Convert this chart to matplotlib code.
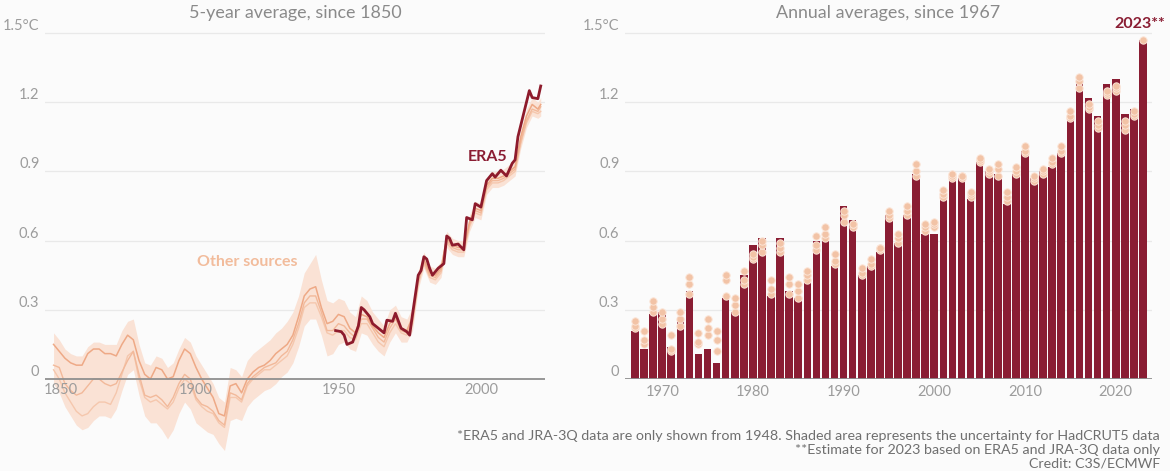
import numpy as np
import matplotlib
matplotlib.use("Agg")
import matplotlib.pyplot as plt

# ---------------- 5-year running averages (°C above 1850-1900) ----------------
other_years = list(range(1850, 2021, 2)) + [2021]

other_upper = [
    0.15, 0.12, 0.09, 0.07, 0.06,   0.06, 0.11, 0.13, 0.13, 0.11,
    0.11, 0.10, 0.15, 0.19, 0.17,   0.08, 0.02, 0.00, 0.05, 0.04,
    0.00, 0.01, 0.08, 0.13, 0.11,   0.05, 0.00, -0.04, -0.08, -0.15,
    -0.16, -0.03, -0.02, -0.06, 0.00,   0.03, 0.05, 0.06, 0.08, 0.11,
    0.13, 0.15, 0.19, 0.27, 0.36,   0.39, 0.40, 0.31, 0.24, 0.25,
    0.28, 0.27, 0.22, 0.20, 0.28,   0.27, 0.23, 0.20, 0.18, 0.24,
    0.27, 0.22, 0.21, 0.27, 0.44,   0.52, 0.46, 0.45, 0.48, 0.61,
    0.58, 0.57, 0.57, 0.68, 0.74,   0.73, 0.84, 0.87, 0.87, 0.88,
    0.90, 0.92, 1.05, 1.14, 1.19,   1.17, 1.19,
]
other_mid = [
    0.06, 0.05, -0.02, -0.05, -0.07,   -0.06, -0.03, 0.00, 0.00, -0.02,
    -0.03, -0.02, 0.03, 0.08, 0.12,   0.02, -0.07, -0.08, -0.07, -0.09,
    -0.12, -0.08, -0.02, 0.02, 0.00,   -0.08, -0.11, -0.12, -0.14, -0.18,
    -0.20, -0.06, -0.07, -0.09, -0.02,   0.01, 0.03, 0.05, 0.06, 0.07,
    0.10, 0.12, 0.17, 0.24, 0.33,   0.36, 0.36, 0.29, 0.21, 0.21,
    0.24, 0.23, 0.20, 0.18, 0.26,   0.26, 0.22, 0.18, 0.16, 0.22,
    0.26, 0.21, 0.20, 0.25, 0.42,   0.51, 0.45, 0.44, 0.47, 0.60,
    0.57, 0.56, 0.56, 0.67, 0.73,   0.72, 0.83, 0.86, 0.86, 0.87,
    0.89, 0.91, 1.03, 1.12, 1.17,   1.16, 1.18,
]
other_low = [
    0.04, 0.00, -0.06, -0.10, -0.14,   -0.16, -0.15, -0.12, -0.10, -0.10,
    -0.11, -0.06, 0.02, 0.10, 0.12,   0.00, -0.08, -0.10, -0.09, -0.11,
    -0.13, -0.10, -0.04, 0.00, -0.02,   -0.09, -0.12, -0.14, -0.15, -0.19,
    -0.21, -0.08, -0.08, -0.10, -0.03,   0.00, 0.02, 0.04, 0.04, 0.06,
    0.08, 0.10, 0.15, 0.22, 0.31,   0.33, 0.33, 0.27, 0.20, 0.19,
    0.21, 0.21, 0.18, 0.17, 0.24,   0.24, 0.20, 0.16, 0.14, 0.20,
    0.24, 0.20, 0.19, 0.24, 0.41,   0.50, 0.44, 0.43, 0.46, 0.59,
    0.56, 0.55, 0.55, 0.66, 0.72,   0.71, 0.82, 0.85, 0.85, 0.86,
    0.88, 0.90, 1.02, 1.11, 1.16,   1.15, 1.16,
]
band_high = [
    0.20, 0.17, 0.13, 0.11, 0.10,   0.10, 0.14, 0.16, 0.16, 0.15,
    0.15, 0.15, 0.21, 0.25, 0.26,   0.15, 0.07, 0.06, 0.10, 0.09,
    0.05, 0.07, 0.13, 0.18, 0.16,   0.10, 0.06, 0.02, -0.02, -0.08,
    -0.10, 0.05, 0.04, 0.01, 0.08,   0.11, 0.13, 0.15, 0.17, 0.20,
    0.22, 0.25, 0.29, 0.36, 0.46,   0.50, 0.54, 0.43, 0.34, 0.33,
    0.35, 0.34, 0.29, 0.27, 0.36,   0.34, 0.29, 0.26, 0.23, 0.30,
    0.32, 0.27, 0.26, 0.31, 0.47,   0.55, 0.49, 0.48, 0.51, 0.64,
    0.61, 0.60, 0.60, 0.71, 0.77,   0.76, 0.87, 0.90, 0.90, 0.91,
    0.93, 0.95, 1.08, 1.17, 1.22,   1.20, 1.22,
]
band_low = [
    -0.02, -0.06, -0.12, -0.16, -0.20,   -0.22, -0.21, -0.18, -0.16, -0.16,
    -0.17, -0.13, -0.05, 0.02, 0.04,   -0.07, -0.16, -0.19, -0.19, -0.22,
    -0.26, -0.22, -0.15, -0.10, -0.13,   -0.19, -0.21, -0.23, -0.24, -0.28,
    -0.31, -0.18, -0.17, -0.18, -0.12,   -0.09, -0.07, -0.05, -0.04, -0.02,
    0.01, 0.03, 0.07, 0.14, 0.23,   0.26, 0.26, 0.19, 0.10, 0.11,
    0.15, 0.16, 0.13, 0.12, 0.20,   0.19, 0.15, 0.12, 0.10, 0.16,
    0.20, 0.16, 0.16, 0.21, 0.39,   0.48, 0.42, 0.41, 0.44, 0.57,
    0.54, 0.53, 0.53, 0.64, 0.70,   0.69, 0.80, 0.83, 0.83, 0.84,
    0.86, 0.88, 1.00, 1.09, 1.14,   1.13, 1.14,
]

era5_5yr_years = [
    1949, 1951, 1952, 1953, 1955, 1957, 1958, 1959, 1961, 1962,
    1964, 1965, 1966, 1967, 1969, 1970, 1972, 1974, 1975, 1976,
    1978, 1979, 1980, 1981, 1982, 1983, 1985, 1987, 1988, 1989,
    1990, 1992, 1994, 1995, 1997, 1998, 2000, 2002, 2004, 2005,
    2007, 2009, 2011, 2012, 2013, 2014, 2015, 2016, 2017, 2018,
    2020, 2021,
]
era5_5yr = [
    0.21, 0.205, 0.19, 0.15, 0.16, 0.23, 0.31, 0.30, 0.27, 0.24,
    0.22, 0.21, 0.20, 0.255, 0.25, 0.285, 0.22, 0.205, 0.19, 0.28,
    0.45, 0.47, 0.53, 0.52, 0.48, 0.45, 0.48, 0.50, 0.62, 0.61,
    0.58, 0.585, 0.56, 0.70, 0.69, 0.76, 0.745, 0.86, 0.89, 0.875,
    0.905, 0.88, 0.935, 0.95, 1.05, 1.10, 1.15, 1.20, 1.25, 1.22,
    1.215, 1.27,
]

# ---------------- annual averages since 1967 ----------------
bar_years = list(range(1967, 2024))
era5_annual = [
    0.21, 0.13, 0.28, 0.29, 0.14, 0.27, 0.38, 0.11, 0.13, 0.07,
    0.35, 0.29, 0.45, 0.58, 0.61, 0.36, 0.61, 0.38, 0.35, 0.42,
    0.60, 0.60, 0.49, 0.75, 0.69, 0.45, 0.49, 0.55, 0.71, 0.59,
    0.71, 0.89, 0.63, 0.63, 0.79, 0.87, 0.87, 0.78, 0.94, 0.90,
    0.89, 0.76, 0.89, 0.99, 0.87, 0.90, 0.92, 0.98, 1.14, 1.31,
    1.22, 1.14, 1.28, 1.30, 1.15, 1.17, 1.47,
]
nan = float("nan")
source_a = [
    0.25, 0.21, 0.34, 0.29, 0.19, 0.29, 0.44, 0.20, 0.26, 0.21,
    0.45, 0.35, 0.47, 0.54, 0.60, 0.43, 0.59, 0.44, 0.41, 0.47,
    0.62, 0.66, 0.54, 0.73, 0.67, 0.48, 0.52, 0.57, 0.73, 0.63,
    0.75, 0.93, 0.67, 0.68, 0.82, 0.89, 0.88, 0.81, 0.96, 0.91,
    0.93, 0.81, 0.92, 1.01, 0.88, 0.91, 0.96, 1.01, 1.16, 1.31,
    1.19, 1.12, 1.25, 1.27, 1.12, 1.16, 1.47,
]
source_b = [
    0.23, 0.17, 0.31, 0.26, 0.13, 0.26, 0.41, 0.16, 0.22, 0.17,
    0.43, 0.32, 0.43, 0.53, 0.58, 0.39, 0.57, 0.41, 0.38, 0.45,
    0.58, 0.63, 0.51, 0.71, 0.67, 0.46, 0.50, 0.57, 0.71, 0.61,
    0.73, 0.90, 0.66, 0.67, 0.80, 0.88, 0.88, 0.80, 0.95, 0.90,
    0.91, 0.79, 0.90, 0.99, 0.87, 0.90, 0.94, 0.99, 1.14, 1.29,
    1.18, 1.10, 1.24, 1.26, 1.10, 1.15, nan,
]
source_c = [
    0.22, 0.15, 0.29, 0.24, 0.12, 0.23, 0.37, 0.15, 0.19, 0.12,
    0.36, 0.29, 0.41, 0.52, 0.55, 0.37, 0.55, 0.37, 0.35, 0.43,
    0.56, 0.61, 0.50, 0.68, 0.66, 0.45, 0.49, 0.56, 0.70, 0.59,
    0.71, 0.88, 0.64, 0.66, 0.79, 0.87, 0.87, 0.79, 0.94, 0.89,
    0.88, 0.77, 0.89, 0.98, 0.86, 0.89, 0.93, 0.98, 1.13, 1.26,
    1.17, 1.09, 1.23, 1.25, 1.08, 1.14, nan,
]

y_ticks = [0, 0.3, 0.6, 0.9, 1.2, 1.5]
y_tick_labels = ["0", "0.3", "0.6", "0.9", "1.2", "1.5°C"]
left_x_ticks = [1850, 1900, 1950, 2000]
right_x_ticks = [1970, 1980, 1990, 2000, 2010, 2020]

# ---------------- styling ----------------
BG = "#fbfbfb"
GRID = "#e9e9e9"
AXIS = "#8f8f8f"
TICK = "#9c9c9c"
TITLE = "#8a8a8a"
DARK_RED = "#8a1d33"
LINE_ERA5 = "#8e1b2c"
PEACH_DARK = "#eea986"
PEACH_MID = "#f2b99a"
PEACH_LIGHT = "#f5c7ad"
BAND = "#fae2d5"
DOT_FACE = "#f2c3a6"
DOT_EDGE = "#fbe4d6"
LABEL_OTHER = "#f2bc9c"

plt.rcParams["font.family"] = ["Lato", "DejaVu Sans"]

fig = plt.figure(figsize=(11.7, 4.71), dpi=100, facecolor=BG)

# pixel geometry helpers (figure is 1170 x 471 px)
W, H = 1170.0, 471.0
px_per_unit = 230.7
zero_px = 379.0


def axes_rect(x0, x1, y_top_val, y_bot_val):
    top = zero_px - y_top_val * px_per_unit
    bot = zero_px - y_bot_val * px_per_unit
    return [x0 / W, 1 - bot / H, (x1 - x0) / W, (bot - top) / H]


# ======================= left panel =======================
ylo_left, yhi = -0.33, 1.55
axL = fig.add_axes(axes_rect(45, 545, yhi, ylo_left))
axL.set_facecolor(BG)
axL.set_xlim(1847, 2022.5)
axL.set_ylim(ylo_left, yhi)

for yv in y_ticks[1:]:
    axL.axhline(yv, color=GRID, lw=0.9, zorder=0)

axL.fill_between(other_years, band_low, band_high, color=BAND, lw=0, zorder=1)
axL.plot(other_years, other_low, color=PEACH_LIGHT, lw=1.0, zorder=2)
axL.plot(other_years, other_mid, color=PEACH_MID, lw=1.0, zorder=2)
axL.plot(other_years, other_upper, color=PEACH_DARK, lw=1.1, zorder=2)
axL.axhline(0, color=AXIS, lw=1.3, zorder=3)
axL.plot(era5_5yr_years, era5_5yr, color=LINE_ERA5, lw=2.0, zorder=4,
         solid_joinstyle="round")

axL.set_yticks(y_ticks)
axL.set_yticklabels(y_tick_labels)
axL.set_xticks([])
axL.tick_params(axis="y", length=0, pad=4, labelsize=10.5, labelcolor=TICK)
for yl in axL.get_yticklabels():
    yl.set_verticalalignment("bottom")
for s in axL.spines.values():
    s.set_visible(False)
for yr in left_x_ticks:
    nudge = 5 if yr == left_x_ticks[0] else 0
    axL.annotate(str(yr), (yr, 0), xytext=(nudge, -3), textcoords="offset points",
                 ha="center", va="top", fontsize=10.5, color=TICK)

axL.text(0.5, 1.0, "5-year average, since 1850", transform=axL.transAxes,
         ha="center", va="bottom", fontsize=12.9, color=TITLE)
axL.text(2002.5, 0.93, "ERA5", ha="center", va="bottom", fontsize=11.5,
         fontweight="bold", color=DARK_RED)
axL.text(1918, 0.475, "Other sources", ha="center", va="bottom", fontsize=11.5,
         fontweight="bold", color=LABEL_OTHER)

# ======================= right panel =======================
axR = fig.add_axes(axes_rect(625, 1152, yhi, 0.0))
axR.set_facecolor(BG)
axR.set_xlim(1965.9, 2024.0)
axR.set_ylim(0, yhi)

for yv in y_ticks[1:]:
    axR.axhline(yv, color=GRID, lw=0.9, zorder=0)

axR.bar(bar_years, era5_annual, width=0.84, color=DARK_RED, lw=0, zorder=2)
for series in (source_c, source_b, source_a):
    axR.scatter(bar_years, series, s=28, color=DOT_FACE, edgecolors=DOT_EDGE,
                linewidths=0.7, zorder=3)
axR.axhline(0, color=AXIS, lw=1.3, zorder=4)

axR.set_yticks(y_ticks)
axR.set_yticklabels(y_tick_labels)
axR.set_xticks(right_x_ticks)
axR.tick_params(axis="y", length=0, pad=4, labelsize=10.5, labelcolor=TICK)
axR.tick_params(axis="x", length=0, pad=4, labelsize=10.5, labelcolor=TICK)
for yl in axR.get_yticklabels():
    yl.set_verticalalignment("bottom")
for s in axR.spines.values():
    s.set_visible(False)

axR.text(0.5, 1.0, "Annual averages, since 1967", transform=axR.transAxes,
         ha="center", va="bottom", fontsize=12.9, color=TITLE)
axR.text(bar_years[-1] - 0.4, 1.51, "2023**", ha="center", va="bottom",
         fontsize=11.5, fontweight="bold", color=DARK_RED)

# ======================= footnotes =======================
notes = [
    "*ERA5 and JRA-3Q data are only shown from 1948. Shaded area represents the uncertainty for HadCRUT5 data",
    "**Estimate for 2023 based on ERA5 and JRA-3Q data only",
    "Credit: C3S/ECMWF",
]
for i, line in enumerate(notes):
    fig.text(1160 / W, 1 - (436 + 14 * i) / H, line, ha="right", va="center",
             fontsize=10.3, color="#6f6f6f")

fig.savefig("out.png", dpi=100, facecolor=BG)
